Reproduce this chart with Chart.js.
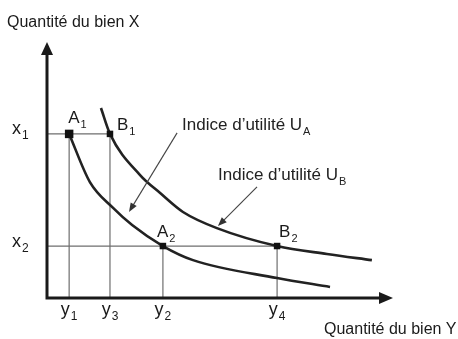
<!DOCTYPE html>
<html lang="fr">
<head>
<meta charset="utf-8">
<script src="https://cdn.jsdelivr.net/npm/chart.js@4.4.1/dist/chart.umd.min.js"></script>
<style>
  html, body { margin: 0; padding: 0; background: #fff; }
  canvas { display: block; }
</style>
</head>
<body>
<canvas id="chart" width="458" height="339"></canvas>
<script>
// repères sur l'axe horizontal (quantité du bien Y) : y1, y3, y2, y4
const yVals = [6.4, 18.2, 33.5, 66.5];
const yNames = [['y', '1'], ['y', '3'], ['y', '2'], ['y', '4']];
// repères sur l'axe vertical (quantité du bien X) : x1, x2
const xVals = [64.1, 20.3];
const xNames = [['x', '1'], ['x', '2']];

// courbes d'indifférence [bien Y, bien X]
const courbeUA = [[6.4, 64.1], [12.4, 45.3], [19.1, 35.2], [24.6, 28.5], [33.5, 20.3],
                  [42.2, 14.8], [66.5, 7.8], [81.8, 4.3]];
const courbeUB = [[15.6, 74.2], [18.2, 64.1], [26.9, 48.0], [32.7, 41.0], [39.3, 33.6],
                  [49.1, 27.3], [66.5, 20.3], [80.9, 17.2], [93.9, 14.8]];

// paniers A1, B1, A2, B2
const paniers = [
  { nom: ['A', '1'], x: yVals[0], y: xVals[0] },
  { nom: ['B', '1'], x: yVals[1], y: xVals[0] },
  { nom: ['A', '2'], x: yVals[2], y: xVals[1] },
  { nom: ['B', '2'], x: yVals[3], y: xVals[1] }
];

// flèches vers les courbes
const fleches = [
  { texte: ['Indice d\u2019utilité U', 'A'], de: [37.6, 64.5], vers: [23.7, 33.6] },
  { texte: ['Indice d\u2019utilité U', 'B'], de: [60.7, 43.4], vers: [49.4, 28.1] }
];

const FONT = '"Liberation Sans", Arial, Helvetica, sans-serif';
const INK = '#1a1a1a';

function seg(a, b) {
  return {
    data: [a, b], showLine: true, borderColor: '#6e6e6e', borderWidth: 1.2,
    pointRadius: 0, clip: false, order: 3
  };
}

// traits de rappel
const rappels = [
  seg({ x: yVals[0], y: 0 }, { x: yVals[0], y: xVals[0] }),
  seg({ x: yVals[1], y: 0 }, { x: yVals[1], y: xVals[0] }),
  seg({ x: 0, y: xVals[0] }, { x: yVals[1], y: xVals[0] }),
  seg({ x: 0, y: xVals[1] }, { x: yVals[3], y: xVals[1] }),
  seg({ x: yVals[2], y: 0 }, { x: yVals[2], y: xVals[1] }),
  seg({ x: yVals[3], y: 0 }, { x: yVals[3], y: xVals[1] })
];

function courbe(pts) {
  return {
    data: pts.map(p => ({ x: p[0], y: p[1] })), showLine: true,
    borderColor: '#222', borderWidth: 2.6, pointRadius: 0,
    cubicInterpolationMode: 'monotone', clip: false, order: 2
  };
}

function texteIndice(ctx, parts, x, y, size, align) {
  const s = Math.round(size * 0.66);
  ctx.font = size + 'px ' + FONT;
  const w1 = ctx.measureText(parts[0]).width;
  ctx.font = s + 'px ' + FONT;
  const w2 = ctx.measureText(parts[1]).width;
  const left = align === 'center' ? x - (w1 + w2 + 1) / 2 : x;
  ctx.textAlign = 'left';
  ctx.textBaseline = 'alphabetic';
  ctx.font = size + 'px ' + FONT;
  ctx.fillText(parts[0], left, y);
  ctx.font = s + 'px ' + FONT;
  ctx.fillText(parts[1], left + w1 + 1, y + size * 0.28);
}

const dessin = {
  id: 'dessin',
  afterDatasetsDraw(chart) {
    const { ctx, scales: { x, y } } = chart;
    const px = v => x.getPixelForValue(v);
    const py = v => y.getPixelForValue(v);
    const ox = px(0), oy = py(0), xEnd = px(100), yEnd = py(100);
    ctx.save();

    // axes avec flèches
    ctx.strokeStyle = INK;
    ctx.fillStyle = INK;
    ctx.lineWidth = 3;
    ctx.beginPath();
    ctx.moveTo(ox, oy + 1.5); ctx.lineTo(ox, yEnd + 10);
    ctx.moveTo(ox - 1.5, oy); ctx.lineTo(xEnd - 10, oy);
    ctx.stroke();
    ctx.beginPath();
    ctx.moveTo(ox, yEnd); ctx.lineTo(ox - 6, yEnd + 13); ctx.lineTo(ox + 6, yEnd + 13);
    ctx.closePath(); ctx.fill();
    ctx.beginPath();
    ctx.moveTo(xEnd, oy); ctx.lineTo(xEnd - 14, oy - 6); ctx.lineTo(xEnd - 14, oy + 6);
    ctx.closePath(); ctx.fill();

    // titres des axes
    ctx.font = '16px ' + FONT;
    ctx.textAlign = 'left';
    ctx.textBaseline = 'alphabetic';
    ctx.fillText('Quantité du bien X', 7, 27);
    ctx.fillText('Quantité du bien Y', 324, 334);

    // repères
    yVals.forEach((v, i) => texteIndice(ctx, yNames[i], px(v), oy + 17, 18, 'center'));
    xVals.forEach((v, i) => texteIndice(ctx, xNames[i], ox - 35, py(v) + 0.5, 18, 'left'));

    // noms des paniers
    const decal = [[-1, -11], [7, -4], [-6, -9], [2, -9]];
    paniers.forEach((p, i) => {
      texteIndice(ctx, p.nom, px(p.x) + decal[i][0], py(p.y) + decal[i][1], 17, 'left');
    });

    // flèches et étiquettes des courbes
    const decalTxt = [[5, -3], [-39, -7]];
    ctx.lineWidth = 1.1;
    ctx.strokeStyle = '#444';
    ctx.fillStyle = '#333';
    fleches.forEach((f, i) => {
      const x0 = px(f.de[0]), y0 = py(f.de[1]);
      const x1 = px(f.vers[0]), y1 = py(f.vers[1]);
      const ang = Math.atan2(y1 - y0, x1 - x0);
      ctx.beginPath();
      ctx.moveTo(x0, y0); ctx.lineTo(x1 - 6 * Math.cos(ang), y1 - 6 * Math.sin(ang));
      ctx.stroke();
      ctx.beginPath();
      ctx.moveTo(x1, y1);
      ctx.lineTo(x1 - 9 * Math.cos(ang) + 3.5 * Math.sin(ang), y1 - 9 * Math.sin(ang) - 3.5 * Math.cos(ang));
      ctx.lineTo(x1 - 9 * Math.cos(ang) - 3.5 * Math.sin(ang), y1 - 9 * Math.sin(ang) + 3.5 * Math.cos(ang));
      ctx.closePath(); ctx.fill();
    });
    ctx.fillStyle = '#222';
    fleches.forEach((f, i) => {
      texteIndice(ctx, f.texte, px(f.de[0]) + decalTxt[i][0], py(f.de[1]) + decalTxt[i][1], 17, 'left');
    });

    ctx.restore();
  }
};

new Chart(document.getElementById('chart'), {
  type: 'scatter',
  data: {
    datasets: [
      {
        data: paniers.map(p => ({ x: p.x, y: p.y })),
        pointStyle: 'rect',
        pointRadius: [6, 4.6, 4.6, 4.6],
        backgroundColor: '#111', borderColor: '#111', borderWidth: 0,
        clip: false, order: 1
      },
      courbe(courbeUA),
      courbe(courbeUB),
      ...rappels
    ]
  },
  options: {
    responsive: false,
    animation: false,
    events: [],
    layout: { padding: { left: 47, right: 65, top: 42, bottom: 41 } },
    plugins: { legend: { display: false }, tooltip: { enabled: false } },
    scales: {
      x: { type: 'linear', min: 0, max: 100, display: false },
      y: { type: 'linear', min: 0, max: 100, display: false }
    }
  },
  plugins: [dessin]
});
</script>
</body>
</html>
